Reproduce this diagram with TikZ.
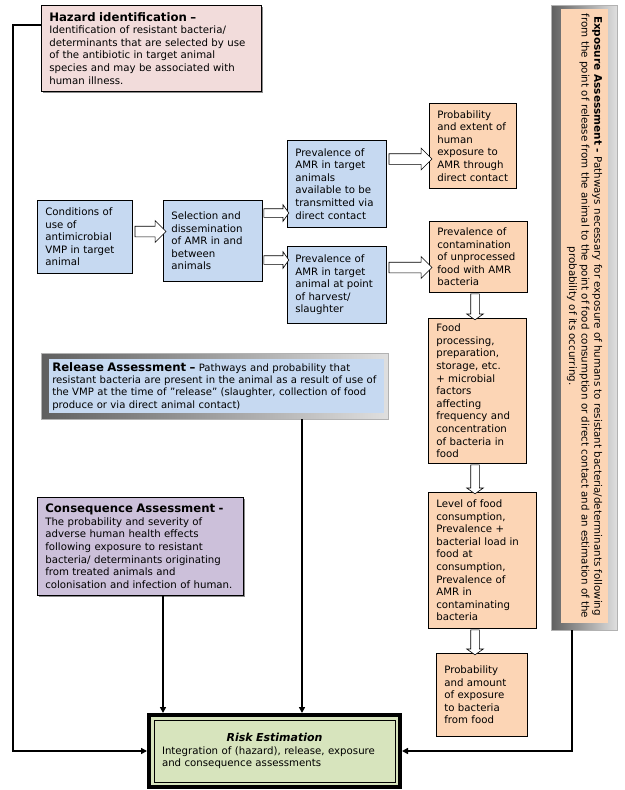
\documentclass[tikz,border=0pt]{standalone}
\usepackage{fontspec}
\setmainfont{DejaVu Sans}
\usepackage{xcolor}
\usepackage{tikz}
\usetikzlibrary{calc}
\usetikzlibrary{shapes.arrows,arrows.meta}
\usetikzlibrary{shadows}

\definecolor{hazpink}{HTML}{F2DCDB}
\definecolor{relblue}{HTML}{C6D9F1}
\definecolor{expoorange}{HTML}{FCD5B5}
\definecolor{conspurple}{HTML}{CCC0DA}
\definecolor{riskgreen}{HTML}{D7E4BD}

\newcommand{\boxtitle}[1]{{\fontsize{11.7}{14.5}\selectfont\bfseries #1}}

\tikzset{
  box/.style={draw, line width=0.6pt, anchor=north west, align=left, inner xsep=8pt, inner ysep=3pt, font=\fontsize{10.2}{12.6}\selectfont},
  shadowbox/.style={drop shadow={shadow xshift=2pt, shadow yshift=-2pt, fill=black!45, opacity=1}},
  frame/.style={draw=gray!60, anchor=north west, left color=gray!75!black, right color=gray!25},
  link/.style={line width=2.4pt, -{Triangle[length=6pt,width=6pt]}},
  harrow/.style={single arrow, draw, line width=0.6pt, fill=white, inner xsep=0pt, inner ysep=5pt, minimum width=0pt, single arrow head extend=5.5pt, single arrow head indent=0pt},
  sarrow/.style={harrow, inner ysep=4pt, single arrow head extend=4pt, single arrow tip angle=110},
}

\begin{document}
\begin{tikzpicture}[x=1pt,y=-1pt]
        \useasboundingbox (0,0) rectangle (624,790);
        %HAZARD
        \node[box, shadowbox, fill=hazpink, text width=204pt, minimum height=86pt] (haz) at (41,5)
          {\boxtitle{Hazard identification –}\\ Identification of resistant bacteria/\\ determinants that are selected by use\\ of the antibiotic in target animal\\ species and may be associated with\\ human illness.};
        %RELEASE PATHWAY
        \node[box, fill=relblue, text width=79pt, minimum height=73pt] (cond) at (37,200)
          {Conditions of\\ use of\\ antimicrobial\\ VMP in target\\ animal};
        \node[box, fill=relblue, text width=83pt, minimum height=81pt] (sel) at (163,200)
          {Selection and\\ dissemination\\ of AMR in and\\ between\\ animals};
        \node[box, fill=relblue, text width=83pt, minimum height=87pt] (prevA) at (287,140)
          {Prevalence of\\ AMR in target\\ animals\\ available to be\\ transmitted via\\ direct contact};
        \node[box, fill=relblue, text width=83pt, minimum height=77pt] (prevB) at (287,246)
          {Prevalence of\\ AMR in target\\ animal at point\\ of harvest/\\ slaughter};
        %EXPOSURE PATHWAY
        \node[box, fill=expoorange, text width=71pt, minimum height=85pt] (probA) at (429,103)
          {Probability\\ and extent of\\ human\\ exposure to\\ AMR through\\ direct contact};
        \node[box, fill=expoorange, text width=82pt, minimum height=71pt] (cont) at (429,221)
          {Prevalence of\\ contamination\\ of unprocessed\\ food with AMR\\ bacteria};
        \node[box, fill=expoorange, text width=82pt, minimum height=145pt] (food) at (428,318)
          {Food\\ processing,\\ preparation,\\ storage, etc.\\ + microbial\\ factors\\ affecting\\ frequency and\\ concentration\\ of bacteria in\\ food};
        \node[box, fill=expoorange, text width=92pt, minimum height=136pt] (level) at (428,492)
          {Level of food\\ consumption,\\ Prevalence +\\ bacterial load in\\ food at\\ consumption,\\ Prevalence of\\ AMR in\\ contaminating\\ bacteria};
        \node[box, fill=expoorange, text width=75pt, minimum height=83pt] (probB) at (436,653)
          {Probability\\ and amount\\ of exposure\\ to bacteria\\ from food};
        %EXPOSURE ASSESSMENT
        \node[frame, minimum width=66pt, minimum height=625pt] (expo) at (551,5) {};
        \node[fill=expoorange, rotate=-90, align=center, inner sep=1pt, minimum width=614pt, minimum height=47pt,
              font=\fontsize{10.3}{12.6}\selectfont] (expot) at (584.5,316)
          {{\fontsize{10.5}{12.6}\selectfont\bfseries Exposure Assessment -} Pathways necessary for exposure of humans to resistant bacteria/determinants following\\
           from the point of release from the animal to the point of food consumption or direct contact and an estimation of the\\
           probability of its occurring.};
        %RELEASE ASSESSMENT
        \node[frame, minimum width=347pt, minimum height=66pt] (rel) at (41,353) {};
        \node[box, draw=none, fill=relblue, text width=329pt, inner xsep=3pt, minimum height=54pt,
              font=\fontsize{10.1}{12.4}\selectfont] (relt) at (49,359)
          {\boxtitle{Release Assessment –} Pathways and probability that\\ resistant bacteria are present in the animal as a result of use of\\ the VMP at the time of ''release'' (slaughter, collection of food\\ produce or via direct animal contact)};
        %CONSEQUENCE ASSESSMENT
        \node[box, shadowbox, fill=conspurple, text width=190pt, minimum height=98pt] (cons) at (37,497)
          {\boxtitle{Consequence Assessment -}\\ The probability and severity of\\ adverse human health effects\\ following exposure to resistant\\ bacteria/ determinants originating\\ from treated animals and\\ colonisation and infection of human.};
        %RISK ESTIMATION
        \node[box, line width=4pt, fill=riskgreen, text width=225pt, inner xsep=13pt, minimum height=72pt] (risk) at (147,713)
          {\makebox[\linewidth][c]{\fontsize{11}{13.5}\selectfont\bfseries\itshape Risk Estimation}\\ Integration of (hazard), release, exposure\\ and consequence assessments};
        \draw[line width=0.8pt] ([shift={(7pt,-7pt)}]risk.north west) rectangle ([shift={(-7pt,7pt)}]risk.south east);
        %HOLLOW ARROWS
        \path (cond.east |- 0,231.5) -- (sel.west |- 0,231.5) node[harrow, midway, minimum height=31pt]{};
        \path (sel.east |- 0,213) -- (prevA.west |- 0,213) node[sarrow, midway, minimum height=25pt]{};
        \path (sel.east |- 0,260) -- (prevB.west |- 0,260) node[sarrow, midway, minimum height=25pt]{};
        \path (prevA.east |- 0,159) -- (probA.west |- 0,159) node[harrow, midway, minimum height=43pt]{};
        \path (prevB.east |- 0,267.5) -- (cont.west |- 0,267.5) node[harrow, midway, minimum height=43pt]{};
        \path (475,0 |- cont.south) -- (475,0 |- food.north) node[sarrow, midway, rotate=-90, minimum height=26pt]{};
        \path (475,0 |- food.south) -- (475,0 |- level.north) node[sarrow, midway, rotate=-90, minimum height=29pt]{};
        \path (475,0 |- level.south) -- (475,0 |- probB.north) node[sarrow, midway, rotate=-90, minimum height=25pt]{};
        %LINKS TO RISK
        \draw[link] (haz.west |- 0,25) -- (13,25) |- (risk.west);
        \draw[link] (163,0 |- cons.south) -- (163,0 |- risk.north);
        \draw[link] (302,0 |- rel.south) -- (302,0 |- risk.north);
        \draw[link] (572,0 |- expo.south) |- (risk.east);
\end{tikzpicture}
\end{document}
